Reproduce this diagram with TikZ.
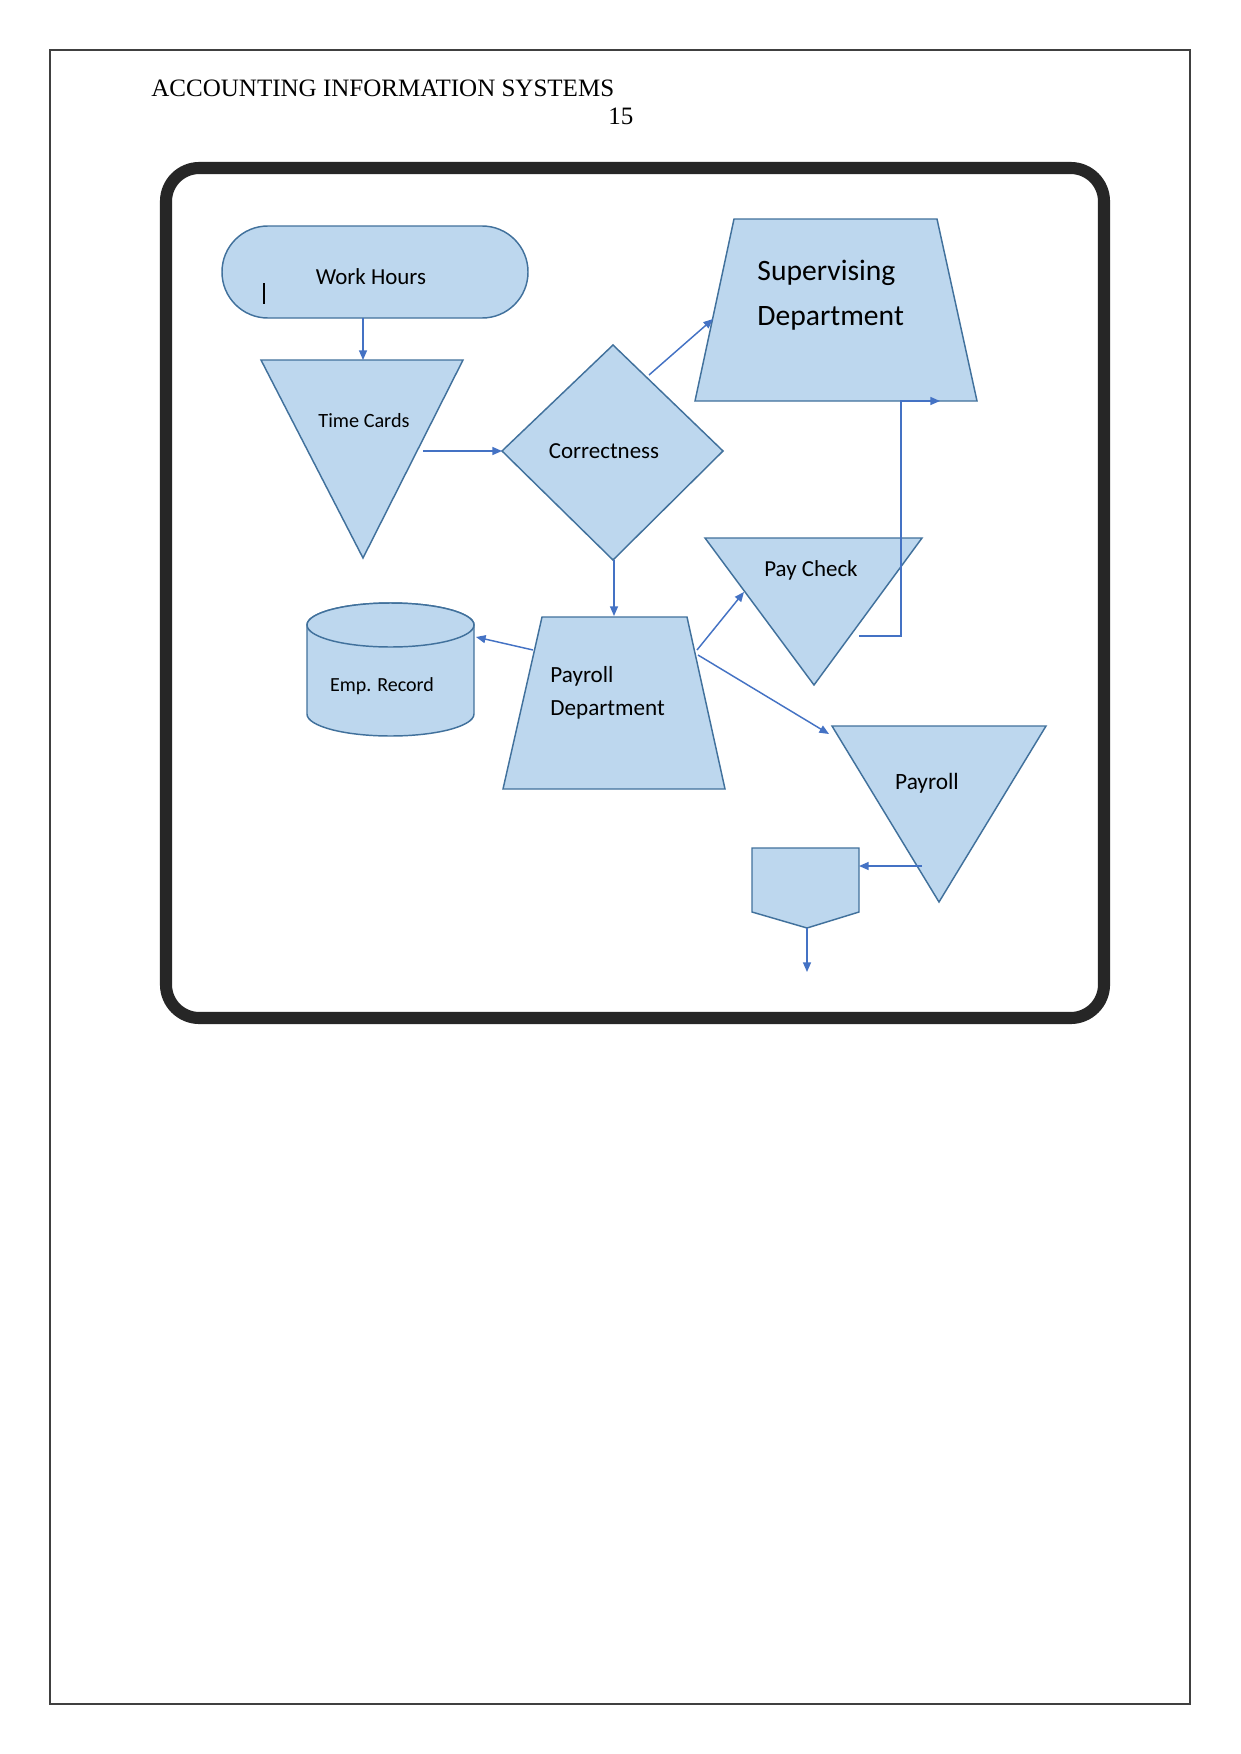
\documentclass[tikz,border=0pt]{standalone}
\usepackage{fontspec}
\setmainfont{Liberation Serif}
\newfontfamily\calib{Carlito}
\usetikzlibrary{arrows.meta}
\definecolor{shfill}{HTML}{BDD7EE}
\definecolor{shdraw}{HTML}{41719C}
\definecolor{connc}{HTML}{4472C4}
\definecolor{framec}{HTML}{262626}
\begin{document}
\begin{tikzpicture}[x=0.4797pt,y=-0.4797pt,
  shp/.style={fill=shfill,draw=shdraw,line width=0.7pt,line join=miter},
  conn/.style={draw=connc,line width=0.7pt,-{Triangle[length=4.6pt,width=3.8pt]}},
  plainconn/.style={draw=connc,line width=0.7pt},
  lbl/.style={font=\calib, text=black, inner sep=0pt}]
\useasboundingbox (0,0) rectangle (1241,1754);
\fill[white] (0,0) rectangle (1241,1754);
% page border
\draw[line width=0.6pt, black!75] (50,50) rectangle (1190,1704);
% header
\node[anchor=base west, inner sep=0pt, font=\fontsize{12}{14}\selectfont] (hdr) at (151,97) {ACCOUNTING INFORMATION SYSTEMS};
\node[anchor=base west, inner sep=0pt, font=\fontsize{12}{14}\selectfont] (pg) at (608,125) {15};
% frame
\draw[framec, line width=5.8pt, rounded corners=16pt] (166,168) rectangle (1104,1018);

% Work Hours
\draw[shp, rounded corners=22pt] (222,226) rectangle (528,318);
\node[lbl, font=\calib\fontsize{11}{13}\selectfont] (wh) at (371,277) {Work Hours};
\draw[line width=0.6pt, black] (264,283) -- (264,304);

% Time Cards
\draw[shp] (261,360) -- (463,360) -- (363,558) -- cycle;
\node[lbl, font=\calib\fontsize{9.7}{12}\selectfont] (tc) at (364,421) {Time Cards};

% Correctness
\draw[shp] (502,451) -- (613,345) -- (723,451) -- (613,560) -- cycle;
\node[lbl, font=\calib\fontsize{11}{13}\selectfont] (corr) at (604,451) {Correctness};

% Supervising Department
\draw[shp] (734,219) -- (937,219) -- (977,401) -- (695,401) -- cycle;
\node[lbl, anchor=west, align=left, font=\calib\fontsize{14.2}{21.6}\selectfont] (sup) at (757,295) {Supervising\\Department};

% Pay Check
\draw[shp] (705,538) -- (922,538) -- (814,685) -- cycle;
\node[lbl, font=\calib\fontsize{11}{13}\selectfont] (pc) at (811,570) {Pay Check};

% Payroll Department
\draw[shp] (542,617) -- (687,617) -- (725,789) -- (503,789) -- cycle;
\node[lbl, anchor=west, align=left, font=\calib\fontsize{11.1}{15.8}\selectfont] (pd) at (550,693) {Payroll\\Department};

% Emp. Record cylinder
\draw[shp] (307,625) -- (307,714) arc[start angle=180,end angle=360,x radius=40.05pt,y radius=10.55pt] -- (474,625) arc[start angle=0,end angle=180,x radius=40.05pt,y radius=10.55pt] -- cycle;
\draw[shp] (390.5,625) ellipse[x radius=40.05pt,y radius=10.55pt];
\node[lbl, font=\calib\fontsize{9.6}{12}\selectfont] (emp) at (382,686) {Emp. Record};

% Payroll triangle
\draw[shp] (832,726) -- (1046,726) -- (939,902) -- cycle;
\node[lbl, font=\calib\fontsize{11.2}{13}\selectfont] (pr) at (927,783) {Payroll};

% off-page connector
\draw[shp] (752,848) -- (859,848) -- (859,912) -- (807,928) -- (752,912) -- cycle;
\node[inner sep=0pt] (opc) at (806,885) {};

% connector endpoints
\coordinate (whB) at (363,318);
\coordinate (tcT) at (363,360);
\coordinate (tcR) at (423,451);
\coordinate (coL) at (502,451);
\coordinate (coUR) at (649,375);
\coordinate (suL) at (713,319);
\coordinate (coB) at (614,560);
\coordinate (pdT) at (614,616);
\coordinate (pdL) at (533,650);
\coordinate (emR) at (476,637);
\coordinate (pdR1) at (697,650);
\coordinate (pcL) at (744,592);
\coordinate (pdR2) at (698,655);
\coordinate (prL) at (829,734);
\coordinate (pcIn) at (859,636);
\coordinate (bend1) at (901,636);
\coordinate (bend2) at (901,401);
\coordinate (suB) at (940,401);
\coordinate (prIn) at (922,866);
\coordinate (opR) at (859,866);
\coordinate (opB) at (807,928);
\coordinate (opEnd) at (807,972);

\draw[conn] (whB) -- (tcT);
\draw[conn] (tcR) -- (coL);
\draw[conn] (coUR) -- (suL);
\draw[conn] (coB) -- (pdT);
\draw[conn] (pdL) -- (emR);
\draw[conn] (pdR1) -- (pcL);
\draw[conn] (pdR2) -- (prL);
\draw[conn] (pcIn) -- (bend1) -- (bend2) -- (suB);
\draw[conn] (prIn) -- (opR);
\draw[conn] (opB) -- (opEnd);
\end{tikzpicture}
\end{document}
